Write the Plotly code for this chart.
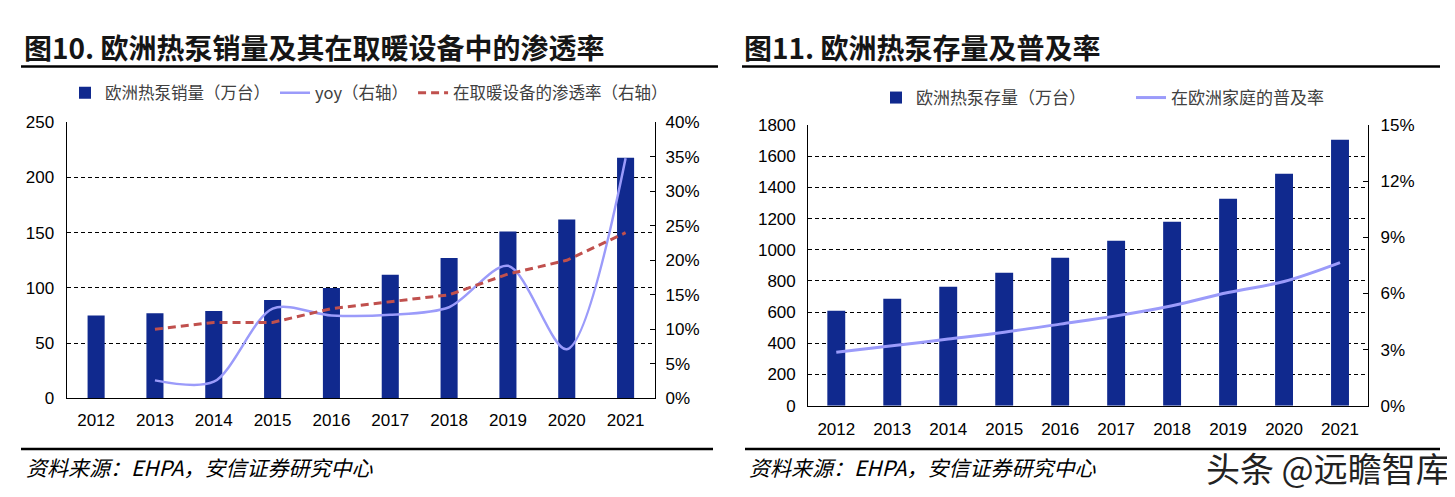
import plotly.graph_objects as go

# The page adds an 8px body margin, so the figure is drawn 8px smaller and
# all reference coordinates are shifted by that offset.
OFF = 8
W, H = 1455 - OFF, 497 - OFF

years = ["2012", "2013", "2014", "2015", "2016", "2017", "2018", "2019", "2020", "2021"]

# Figure 10
sales = [75, 77, 79, 89, 100, 112, 127, 151, 162, 218]          # 万台
yoy = [None, 0.026, 0.024, 0.130, 0.120, 0.121, 0.132, 0.192, 0.071, 0.348]
penetration = [None, 0.100, 0.110, 0.110, 0.130, 0.140, 0.150, 0.180, 0.200, 0.240]

# Figure 11
stock = [609, 686, 763, 853, 949, 1058, 1179, 1327, 1487, 1705]  # 万台
household_rate = [0.0286, 0.0320, 0.0356, 0.0393, 0.0436, 0.0480, 0.0534, 0.0605, 0.0664, 0.0765]

left_ticks = [0, 50, 100, 150, 200, 250]
left_pct_ticks = [0, 0.05, 0.10, 0.15, 0.20, 0.25, 0.30, 0.35, 0.40]
right_ticks = [0, 200, 400, 600, 800, 1000, 1200, 1400, 1600, 1800]
right_pct_ticks = [0, 0.03, 0.06, 0.09, 0.12, 0.15]

BAR = "#10298E"
LILAC = "#9B9BFA"
RED = "#C0504D"
TICKFONT = dict(family="Liberation Sans, Arial, sans-serif", size=17, color="#000000")
CJK = "Noto Sans CJK SC, sans-serif"

def px(x):
    return (x - OFF) / W

def py(y):
    return 1 - (y - OFF) / H

fig = go.Figure()

fig.add_trace(go.Bar(x=years, y=sales, name="欧洲热泵销量（万台）", marker=dict(color=BAR, line=dict(width=0)),
                     width=0.29, xaxis="x", yaxis="y", legend="legend"))
fig.add_trace(go.Scatter(x=years, y=yoy, name="yoy（右轴）", mode="lines",
                         line=dict(color=LILAC, width=2.5, shape="spline", smoothing=0.85),
                         xaxis="x", yaxis="y2", legend="legend"))
fig.add_trace(go.Scatter(x=years, y=penetration, name="在取暖设备的渗透率（右轴）", mode="lines",
                         line=dict(color=RED, width=3, dash="8px,5px"),
                         xaxis="x", yaxis="y2", legend="legend"))

fig.add_trace(go.Bar(x=years, y=stock, name="欧洲热泵存量（万台）", marker=dict(color=BAR, line=dict(width=0)),
                     width=0.32, xaxis="x2", yaxis="y3", legend="legend2"))
fig.add_trace(go.Scatter(x=years, y=household_rate, name="在欧洲家庭的普及率", mode="lines",
                         line=dict(color=LILAC, width=3, shape="spline"),
                         xaxis="x2", yaxis="y4", legend="legend2"))

grid = dict(showgrid=True, gridcolor="#000000", gridwidth=1, griddash="4px,3px")
common = dict(automargin=False, fixedrange=True)

fig.update_layout(
    width=W, height=H, autosize=False,
    margin=dict(l=0, r=0, t=0, b=0, autoexpand=False),
    paper_bgcolor="white", plot_bgcolor="white",
    showlegend=True,
    barmode="group",
    xaxis=dict(domain=[px(66.7), px(655)], type="category", showline=True, linecolor="#000", linewidth=1.3,
               ticks="", tickfont=TICKFONT, anchor="y", showgrid=False, ticklabelstandoff=6, **common),
    yaxis=dict(domain=[py(398.3), py(122.3)], range=[0, 250], tickvals=left_ticks, showline=True,
               linecolor="#000", linewidth=1.3, ticks="", tickfont=TICKFONT, zeroline=False, anchor="x",
               ticklabelstandoff=8, **grid, **common),
    yaxis2=dict(overlaying="y", side="right", range=[0, 0.40], tickvals=left_pct_ticks, tickformat=".0%",
                showline=True, linecolor="#000", linewidth=1.3, ticks="inside", ticklen=5, tickcolor="#000",
                tickfont=TICKFONT, showgrid=False, zeroline=False, anchor="x", ticklabelstandoff=6, **common),
    xaxis2=dict(domain=[px(808.3), px(1368)], type="category", showline=True, linecolor="#000", linewidth=1.3,
                ticks="", tickfont=TICKFONT, anchor="y3", showgrid=False, ticklabelstandoff=8, **common),
    yaxis3=dict(domain=[py(405.7), py(125)], range=[0, 1800], tickvals=right_ticks, showline=True,
                linecolor="#000", linewidth=1.3, ticks="", tickfont=TICKFONT, zeroline=False, anchor="x2",
                ticklabelstandoff=8, **grid, **common),
    yaxis4=dict(overlaying="y3", side="right", range=[0, 0.15], tickvals=right_pct_ticks, tickformat=".0%",
                showline=True, linecolor="#000", linewidth=1.3, ticks="inside", ticklen=5, tickcolor="#000",
                tickfont=TICKFONT, showgrid=False, zeroline=False, anchor="x2", ticklabelstandoff=8, **common),
    legend=dict(orientation="h", x=px(369), xanchor="center", y=py(93), yanchor="middle",
                font=dict(family=CJK, size=16.5, color="#404040"), bgcolor="rgba(0,0,0,0)",
                itemwidth=30, traceorder="normal"),
    legend2=dict(orientation="h", x=px(876), xanchor="left", y=py(98), yanchor="middle",
                 font=dict(family=CJK, size=17, color="#404040"), bgcolor="rgba(0,0,0,0)",
                 itemwidth=30, traceorder="normal", entrywidth=210, entrywidthmode="pixels"),
)

titles = [
    ("图10. 欧洲热泵销量及其在取暖设备中的渗透率", 22),
    ("图11. 欧洲热泵存量及普及率", 742),
]
for txt, x0 in titles:
    fig.add_annotation(text="<b>" + txt + "</b>", xref="paper", yref="paper", x=px(x0), y=py(47),
                       xanchor="left", yanchor="middle", showarrow=False,
                       font=dict(family=CJK, size=28, color="#151515"))

for x0, x1 in [(21, 718), (742, 1440)]:
    fig.add_shape(type="line", xref="paper", yref="paper", x0=px(x0), x1=px(x1), y0=py(66.5), y1=py(66.5),
                  line=dict(color="#000", width=2.5))
for x0, x1 in [(21, 713), (745, 1440)]:
    fig.add_shape(type="line", xref="paper", yref="paper", x0=px(x0), x1=px(x1), y0=py(449), y1=py(449),
                  line=dict(color="#000", width=2.5))

for x0 in [24, 747]:
    fig.add_annotation(text="<i>资料来源：EHPA，安信证券研究中心</i>", xref="paper", yref="paper",
                       x=px(x0), y=py(467), xanchor="left", yanchor="middle", showarrow=False,
                       font=dict(family=CJK, size=21, color="#000"))

fig.add_annotation(text="头条 @远瞻智库", xref="paper", yref="paper", x=px(1452), y=py(467),
                   xanchor="right", yanchor="middle", showarrow=False,
                   font=dict(family=CJK, size=34, color="#222222"))

fig.write_html("out.html")
